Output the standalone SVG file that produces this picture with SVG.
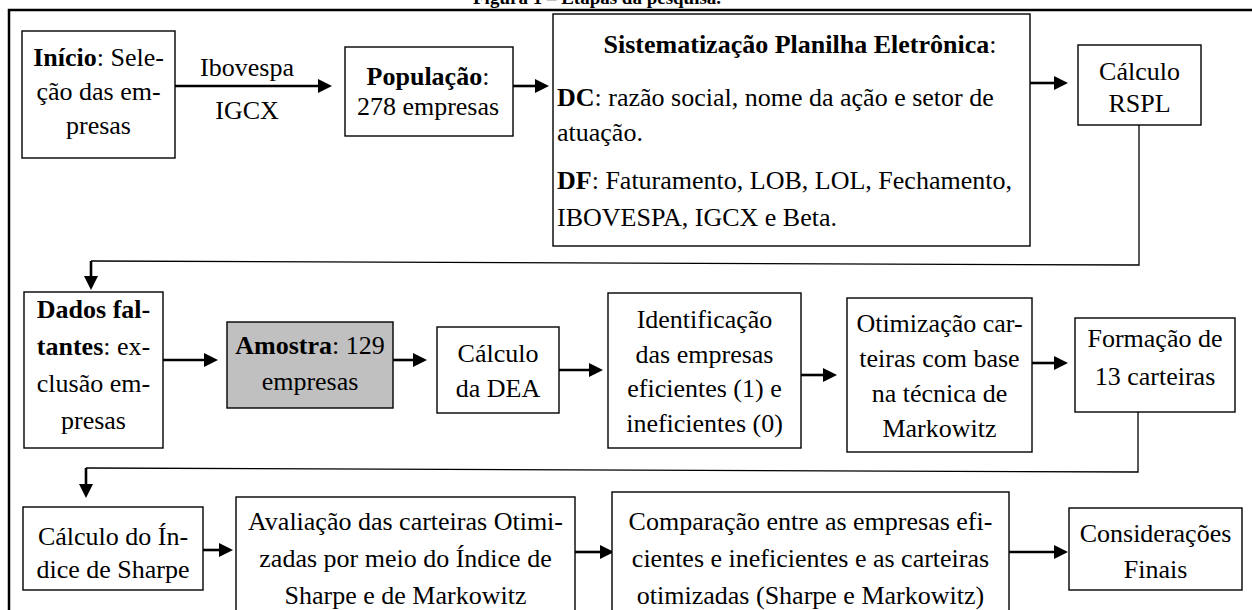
<svg xmlns="http://www.w3.org/2000/svg" width="1252" height="610" viewBox="0 0 1252 610">
<defs>
<marker id="ah" viewBox="0 0 14 14" refX="4" refY="7" markerWidth="14" markerHeight="15" markerUnits="userSpaceOnUse" orient="auto"><path d="M0,0 L14,7 L0,14 z" fill="#000"/></marker>
</defs>
<style>
.box{fill:#fff;stroke:#000;stroke-width:1.4}
.grey{fill:#c0c0c0}
.t{font-family:"Liberation Serif","Times New Roman",serif;font-size:26px;fill:#000}
.c{text-anchor:middle}
.b{font-weight:bold}
.arr{stroke:#000;stroke-width:2.6;fill:none;marker-end:url(#ah)}
.ret{stroke:#000;stroke-width:1.3;fill:none}
.frame{stroke:#000;stroke-width:2.5;fill:none}
</style>
<rect width="1252" height="610" fill="#fff"/>
<text class="t b" x="473" y="4" style="font-size:19px">Figura 1 – Etapas da pesquisa.</text>
<path class="frame" d="M9,610 V10 H1252"/>

<g id="connectors">
<line class="arr" x1="175" y1="86" x2="322" y2="86"/>
<text class="t c" x="247" y="76">Ibovespa</text>
<text class="t c" x="247" y="119">IGCX</text>
<line class="arr" x1="513" y1="86" x2="539" y2="86"/>
<line class="arr" x1="1030" y1="83" x2="1058" y2="83"/>
<path class="ret" d="M1139,125 V265 L91,261"/>
<line class="arr" x1="91" y1="261" x2="91" y2="280"/>
<line class="arr" x1="163" y1="360" x2="208" y2="360"/>
<line class="arr" x1="393" y1="360" x2="417" y2="360"/>
<line class="arr" x1="559" y1="370" x2="593" y2="370"/>
<line class="arr" x1="801" y1="375" x2="827" y2="375"/>
<line class="arr" x1="1032" y1="363" x2="1058" y2="363"/>
<path class="ret" d="M1138,412 V472 L86,468"/>
<line class="arr" x1="86" y1="468" x2="86" y2="488"/>
<line class="arr" x1="203" y1="550" x2="223" y2="550"/>
<line class="arr" x1="575" y1="552" x2="604" y2="552"/>
<line class="arr" x1="1009" y1="552" x2="1058" y2="552"/>
</g>

<g id="inicio">
<rect class="box" x="22" y="31" width="153" height="127"/>
<text class="t c" x="98.5" y="66"><tspan class="b">Início</tspan>: Sele-</text>
<text class="t c" x="98.5" y="100">ção das em-</text>
<text class="t c" x="98.5" y="134">presas</text>
</g>

<g id="populacao">
<rect class="box" x="345" y="47" width="168" height="89"/>
<text class="t c" x="428" y="85"><tspan class="b">População</tspan>:</text>
<text class="t c" x="428" y="115">278 empresas</text>
</g>

<g id="sistematizacao">
<rect class="box" x="553" y="14" width="477" height="232"/>
<text class="t c" x="800" y="53"><tspan class="b">Sistematização Planilha Eletrônica</tspan>:</text>
<text class="t" x="557" y="106"><tspan class="b">DC</tspan>: razão social, nome da ação e setor de</text>
<text class="t" x="557" y="141">atuação.</text>
<text class="t" x="557" y="189"><tspan class="b">DF</tspan>: Faturamento, LOB, LOL, Fechamento,</text>
<text class="t" x="557" y="226">IBOVESPA, IGCX e Beta.</text>
</g>

<g id="rspl">
<rect class="box" x="1078" y="45" width="123" height="80"/>
<text class="t c" x="1139.5" y="80">Cálculo</text>
<text class="t c" x="1139.5" y="112">RSPL</text>
</g>

<g id="dados">
<rect class="box" x="24" y="292" width="139" height="156"/>
<text class="t c b" x="93.5" y="318">Dados fal-</text>
<text class="t c" x="93.5" y="355"><tspan class="b">tantes</tspan>: ex-</text>
<text class="t c" x="93.5" y="392">clusão em-</text>
<text class="t c" x="93.5" y="429">presas</text>
</g>

<g id="amostra">
<rect class="box grey" x="227" y="322" width="166" height="86"/>
<text class="t c" x="310" y="354"><tspan class="b">Amostra</tspan>: 129</text>
<text class="t c" x="310" y="390">empresas</text>
</g>

<g id="dea">
<rect class="box" x="437" y="327" width="122" height="86"/>
<text class="t c" x="498" y="362">Cálculo</text>
<text class="t c" x="498" y="397">da DEA</text>
</g>

<g id="identificacao">
<rect class="box" x="608" y="293" width="193" height="155"/>
<text class="t c" x="704.5" y="328">Identificação</text>
<text class="t c" x="704.5" y="363">das empresas</text>
<text class="t c" x="704.5" y="397">eficientes (1) e</text>
<text class="t c" x="704.5" y="432">ineficientes (0)</text>
</g>

<g id="otimizacao">
<rect class="box" x="847" y="298" width="185" height="154"/>
<text class="t c" x="939.5" y="332">Otimização car-</text>
<text class="t c" x="939.5" y="367">teiras com base</text>
<text class="t c" x="939.5" y="402">na técnica de</text>
<text class="t c" x="939.5" y="437">Markowitz</text>
</g>

<g id="formacao">
<rect class="box" x="1075" y="318" width="160" height="94"/>
<text class="t c" x="1155" y="347">Formação de</text>
<text class="t c" x="1155" y="385">13 carteiras</text>
</g>

<g id="sharpe">
<rect class="box" x="23" y="507" width="180" height="83"/>
<text class="t c" x="113" y="545">Cálculo do Ín-</text>
<text class="t c" x="113" y="578">dice de Sharpe</text>
</g>

<g id="avaliacao">
<rect class="box" x="236" y="497" width="339" height="120"/>
<text class="t c" x="405.5" y="530">Avaliação das carteiras Otimi-</text>
<text class="t c" x="405.5" y="567">zadas por meio do Índice de</text>
<text class="t c" x="405.5" y="604">Sharpe e de Markowitz</text>
</g>

<g id="comparacao">
<rect class="box" x="612" y="492" width="397" height="125"/>
<text class="t c" x="810.5" y="530">Comparação entre as empresas efi-</text>
<text class="t c" x="810.5" y="567">cientes e ineficientes e as carteiras</text>
<text class="t c" x="810.5" y="604">otimizadas (Sharpe e Markowitz)</text>
</g>

<g id="consideracoes">
<rect class="box" x="1069" y="508" width="173" height="82"/>
<text class="t c" x="1155.5" y="542">Considerações</text>
<text class="t c" x="1155.5" y="578">Finais</text>
</g>
</svg>
